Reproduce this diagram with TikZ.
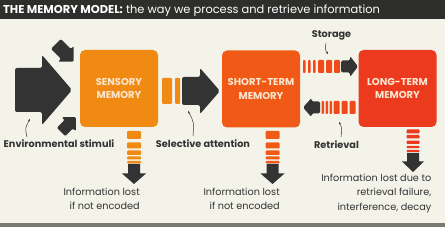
\documentclass[tikz,border=0pt]{standalone}
\usepackage{fontspec}
\setmainfont{Poppins}
\usetikzlibrary{arrows.meta,calc}
\definecolor{bg}{HTML}{F3F3EA}
\definecolor{hdr}{HTML}{2E2E2C}
\definecolor{dk}{HTML}{333333}
\definecolor{sens}{HTML}{F08A12}
\definecolor{stm}{HTML}{F05A16}
\definecolor{ltm}{HTML}{EC3A1E}
\definecolor{mid}{HTML}{EE4A1A}
\definecolor{boxtxt}{HTML}{FBE6CF}
\definecolor{foot}{HTML}{7A7A72}
\newcommand\myarrow[8]{%
  \begin{scope}[shift={(#1,#2)}, rotate=#3]
    \fill[#8, rounded corners=1.2pt] (0,-#5) -- (#4,-#5) -- (#4,-#7) -- ({#4+#6},0) -- (#4,#7) -- (#4,#5) -- (0,#5) -- cycle;
  \end{scope}}
\begin{document}
\begin{tikzpicture}[x=1pt,y=-1pt,
  membox/.style={rounded corners=5pt, minimum width=78pt, minimum height=77pt, inner sep=0pt,
    text=boxtxt, align=center, font=\bfseries\fontsize{10}{13.5}\selectfont},
  lbl/.style={inner sep=0pt, font=\bfseries\fontsize{9.7}{12}\selectfont, text=dk},
  lost/.style={inner sep=0pt, align=right, font=\fontsize{9.7}{14.5}\selectfont, text=dk, anchor=north east},
  callout/.style={draw=dk, line width=0.5pt, -{Stealth[length=2.4pt,width=2.2pt]}},
  seg/.style={rounded corners=1pt}]
\useasboundingbox (0,0) rectangle (445,227);
\fill[bg] (0,0) rectangle (445,227);
\fill[hdr] (0,0) rectangle (445,19);
\fill[foot] (0,223) rectangle (445,227);
\node[anchor=base west, inner sep=0pt, text=white, font=\fontsize{11.4}{13}\selectfont] (title) at (3,14)
  {\textbf{THE MEMORY MODEL:} the way we process and retrieve information};

% boxes
\node[membox, fill=sens] (sens) at (119,88.5) {SENSORY\\MEMORY};
\node[membox, fill=stm] (stm) at (261,89) {SHORT-TERM\\MEMORY};
\node[membox, fill=ltm] (ltm) at (397.5,88.5) {LONG-TERM\\MEMORY};

% environmental stimuli arrows
\fill[dk, rounded corners=2pt] (15,68) -- (42,68) -- (42,55) -- (72,90) -- (42,125) -- (42,112) -- (15,112) -- cycle;
\myarrow{56}{44}{-45}{14}{7}{11}{11}{dk}
\myarrow{61}{132}{45}{11}{6}{10}{10}{dk}

% selective attention
\fill[sens, seg] (162,78) rectangle (172,104);
\fill[sens, seg] (175,78) rectangle (180,104);
\fill[dk, rounded corners=2pt] (182,77) -- (200,77) -- (200,68) -- (220,91) -- (200,114) -- (200,105) -- (182,105) -- cycle;

% storage
\foreach \a in {303,308,313} \fill[mid, rounded corners=0.8pt] (\a,60) rectangle ++(2.5,13);
\foreach \a in {318,326,334} \fill[mid, seg] (\a,60) rectangle ++(6,13);
\fill[dk, rounded corners=1.5pt] (341,60.5) -- (350,60.5) -- (350,56) -- (358,66.5) -- (350,77) -- (350,72.5) -- (341,72.5) -- cycle;

% retrieval
\fill[dk, rounded corners=1.5pt] (303,107.5) -- (311.5,98) -- (311.5,101.5) -- (320,101.5) -- (320,113.5) -- (311.5,113.5) -- (311.5,117) -- cycle;
\foreach \a in {321.5,325.5,329.5} \fill[mid, rounded corners=0.8pt] (\a,101) rectangle ++(2.5,13);
\foreach \a in {333.5,341.5,349.5} \fill[mid, seg] (\a,101) rectangle ++(6,13);

% drips
\foreach \a/\b in {131/139,142.5/148.5,150.5/155,156.5/159.5,161/163.5} {
  \fill[sens, seg] (127,\a) rectangle (141,\b);
  \fill[stm, seg] (265.5,\a) rectangle (279.5,\b);}
\fill[dk] (128,164) -- (140,164) -- (140,173.5) -- (146,173.5) -- (134,184) -- (122,173.5) -- (128,173.5) -- cycle;
\fill[dk] (266.5,164) -- (278.5,164) -- (278.5,173.5) -- (284.5,173.5) -- (272.5,184) -- (260.5,173.5) -- (266.5,173.5) -- cycle;
\foreach \a/\b in {129.5/133.5,135/138.5,140.7/144,146/148.2,150/152}
  \fill[ltm, rounded corners=0.8pt] (406.5,\a) rectangle (419.5,\b);
\fill[dk] (407,153) -- (419,153) -- (419,161.5) -- (424,161.5) -- (413,172) -- (402,161.5) -- (407,161.5) -- cycle;

% labels
\node[lbl] (env) at (59,144) {Environmental stimuli};
\node[lbl] (sel) at (203,144) {Selective attention};
\node[lbl] (stor) at (331.5,35) {Storage};
\node[lbl] (retr) at (336.5,145) {Retrieval};

\coordinate (envp) at (30,119);
\coordinate (selp) at (188,111);
\coordinate (storp) at (328,54);
\coordinate (retrp) at (339,122);
\draw[callout] (27,137) .. controls (25,128) .. (envp);
\draw[callout] (193,136) .. controls (194,122) .. (selp);
\draw[callout] (326,43) .. controls (325,50) .. (storp);
\draw[callout] (341,137) .. controls (342,128) .. (retrp);

\node[lost] (l1) at (140,187.5) {Information lost\\if not encoded};
\node[lost] (l2) at (280,187.5) {Information lost\\if not encoded};
\node[lost] (l3) at (431.5,173.5) {Information lost due to\\retrieval failure,\\interference, decay};
\end{tikzpicture}
\end{document}
